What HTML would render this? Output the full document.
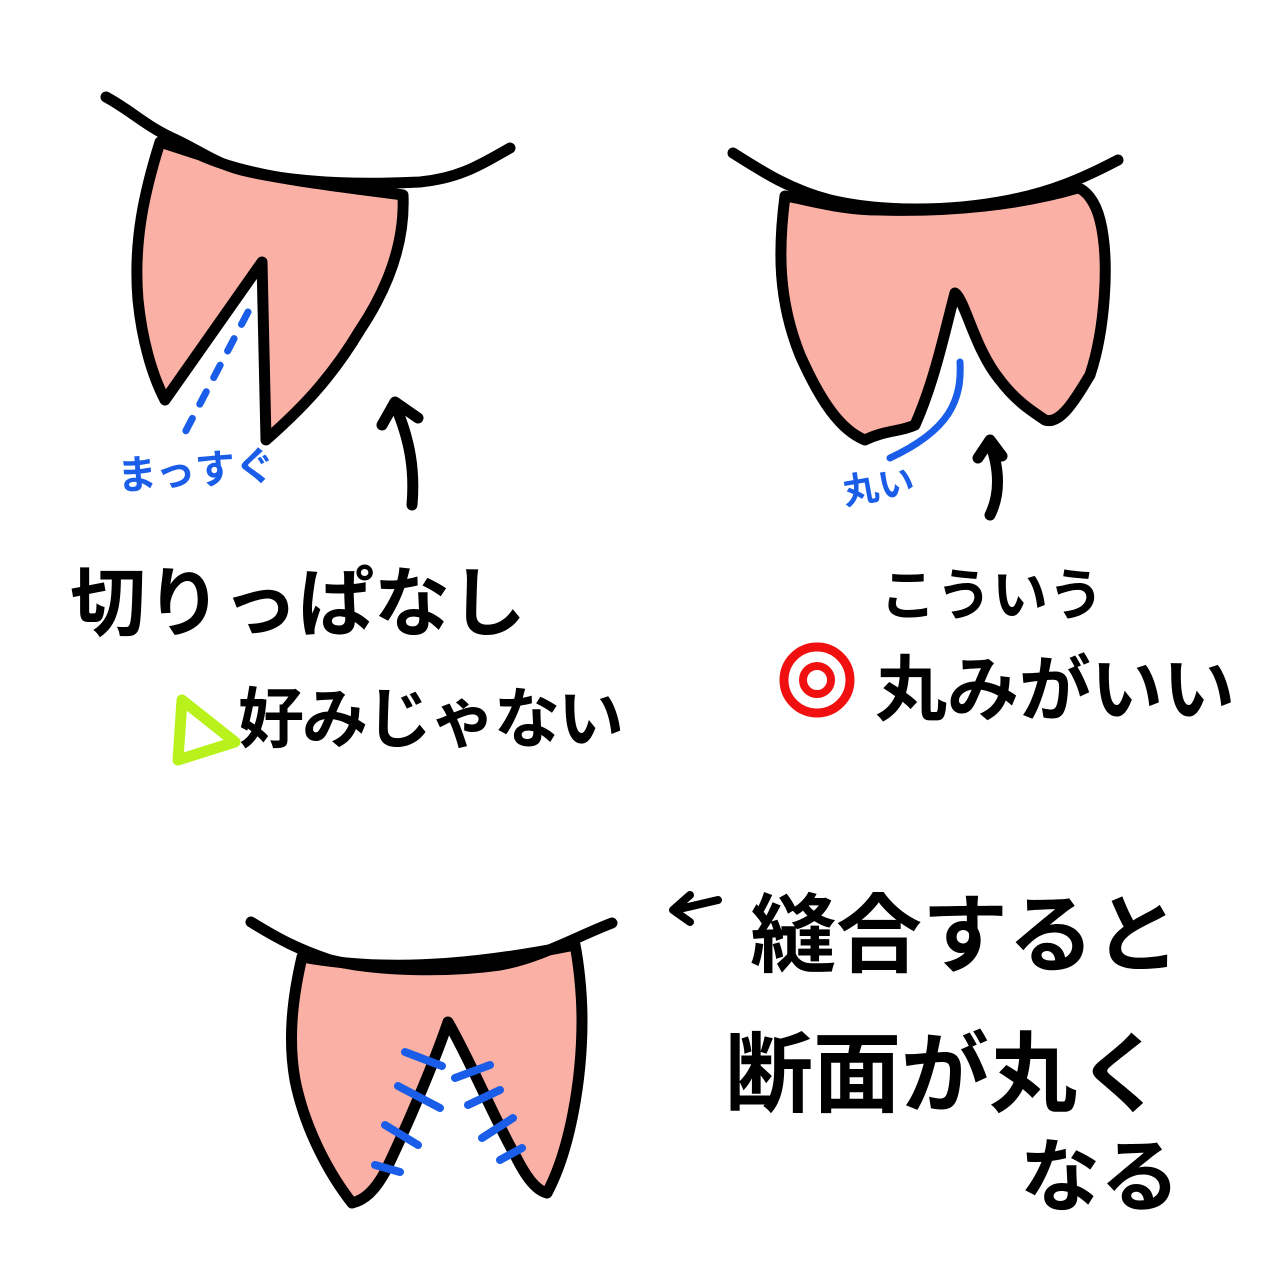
<!DOCTYPE html>
<html><head><meta charset="utf-8"><style>
html,body{margin:0;padding:0;background:#fff;}
svg{display:block}
text{font-family:"Liberation Sans","Noto Sans CJK JP",sans-serif;}
</style></head><body>
<svg width="1280" height="1280" viewBox="0 0 1280 1280" xmlns="http://www.w3.org/2000/svg">
<g fill="none" stroke="#000" stroke-width="11" stroke-linecap="round" stroke-linejoin="round">
<path d="M160,142 C145,190 133,240 138,300 C142,340 152,375 165,400 L262,262 L266,440 C300,410 330,380 360,330 C390,285 405,240 403,195 C330,185 250,178 200,155 Z" fill="#fbb0a6"/>
<path d="M106,97 C130,110 145,125 170,137 C200,150 215,165 250,172 C300,183 360,185 420,182 C460,178 480,165 510,148"/>
<path d="M785,196 C778,250 778,300 800,355 C820,400 840,430 865,440 C885,430 900,432 915,425 C935,380 945,330 955,293 C965,300 975,350 1000,380 C1015,400 1030,410 1045,420 C1060,425 1075,400 1090,375 C1105,330 1110,260 1100,220 C1095,200 1085,190 1078,188 C1020,205 950,212 880,210 C840,210 810,200 785,196 Z" fill="#fbb0a6"/>
<path d="M733,153 C760,170 790,190 830,200 C880,212 950,212 1010,200 C1050,192 1080,180 1118,160"/>
<path d="M302,957 C292,1000 288,1040 295,1080 C305,1130 330,1175 352,1203 C365,1200 375,1190 385,1172 C410,1120 435,1060 448,1022 C470,1060 495,1120 515,1155 C525,1175 535,1190 547,1193 C570,1150 582,1080 582,1020 C582,990 578,960 575,945 C500,960 400,975 302,957 Z" fill="#fbb0a6"/>
<path d="M251,922 C280,940 300,950 330,960 C380,972 450,972 500,965 C540,958 580,935 612,923"/>
<path d="M412,505 C415,470 410,440 395,405 M382,425 L395,402 L418,418"/>
<path d="M990,515 C1000,495 1000,470 990,443 M978,458 L990,440 L1002,456"/>
<path d="M718,900 L675,910 M690,895 L673,910 L690,922" stroke-width="8"/>
</g>
<g stroke="#1a5de8" stroke-width="7" stroke-linecap="round" fill="none">
<path d="M248,312 L180,442" stroke-dasharray="14 16"/>
<path d="M960,362 C962,400 950,430 890,458"/>
<path d="M405,1052 L442,1066 M398,1086 L440,1108 M385,1125 L418,1145 M375,1165 L400,1172 M455,1078 L490,1065 M468,1105 L500,1090 M482,1138 L513,1118 M500,1160 L522,1148" stroke-width="8"/>
</g>
<text x="118" y="490" font-size="40" font-weight="700" fill="#1a5de8" transform="rotate(-4 118 490)">まっすぐ</text>
<text x="845" y="505" font-size="36" font-weight="700" fill="#1a5de8" transform="rotate(-10 845 505)">丸い</text>
<g font-weight="700" fill="#000">
<text x="70" y="630" font-size="76">切りっぱなし</text>
<text x="238" y="742" font-size="66" letter-spacing="-2">好みじゃない</text>
<text x="880" y="615" font-size="56">こういう</text>
<text x="875" y="715" font-size="72">丸みがいい</text>
<text x="750" y="965" font-size="86">縫合すると</text>
<text x="725" y="1105" font-size="88">断面が丸く</text>
<text x="1020" y="1205" font-size="80">なる</text>
</g>
<path d="M182,700 L178,760 L235,742 Z" fill="none" stroke="#b8f21a" stroke-width="11" stroke-linejoin="round"/>
<circle cx="817" cy="680" r="33" fill="none" stroke="#f01010" stroke-width="9"/>
<circle cx="817" cy="680" r="14" fill="none" stroke="#f01010" stroke-width="8"/>
</svg>
</body></html>
